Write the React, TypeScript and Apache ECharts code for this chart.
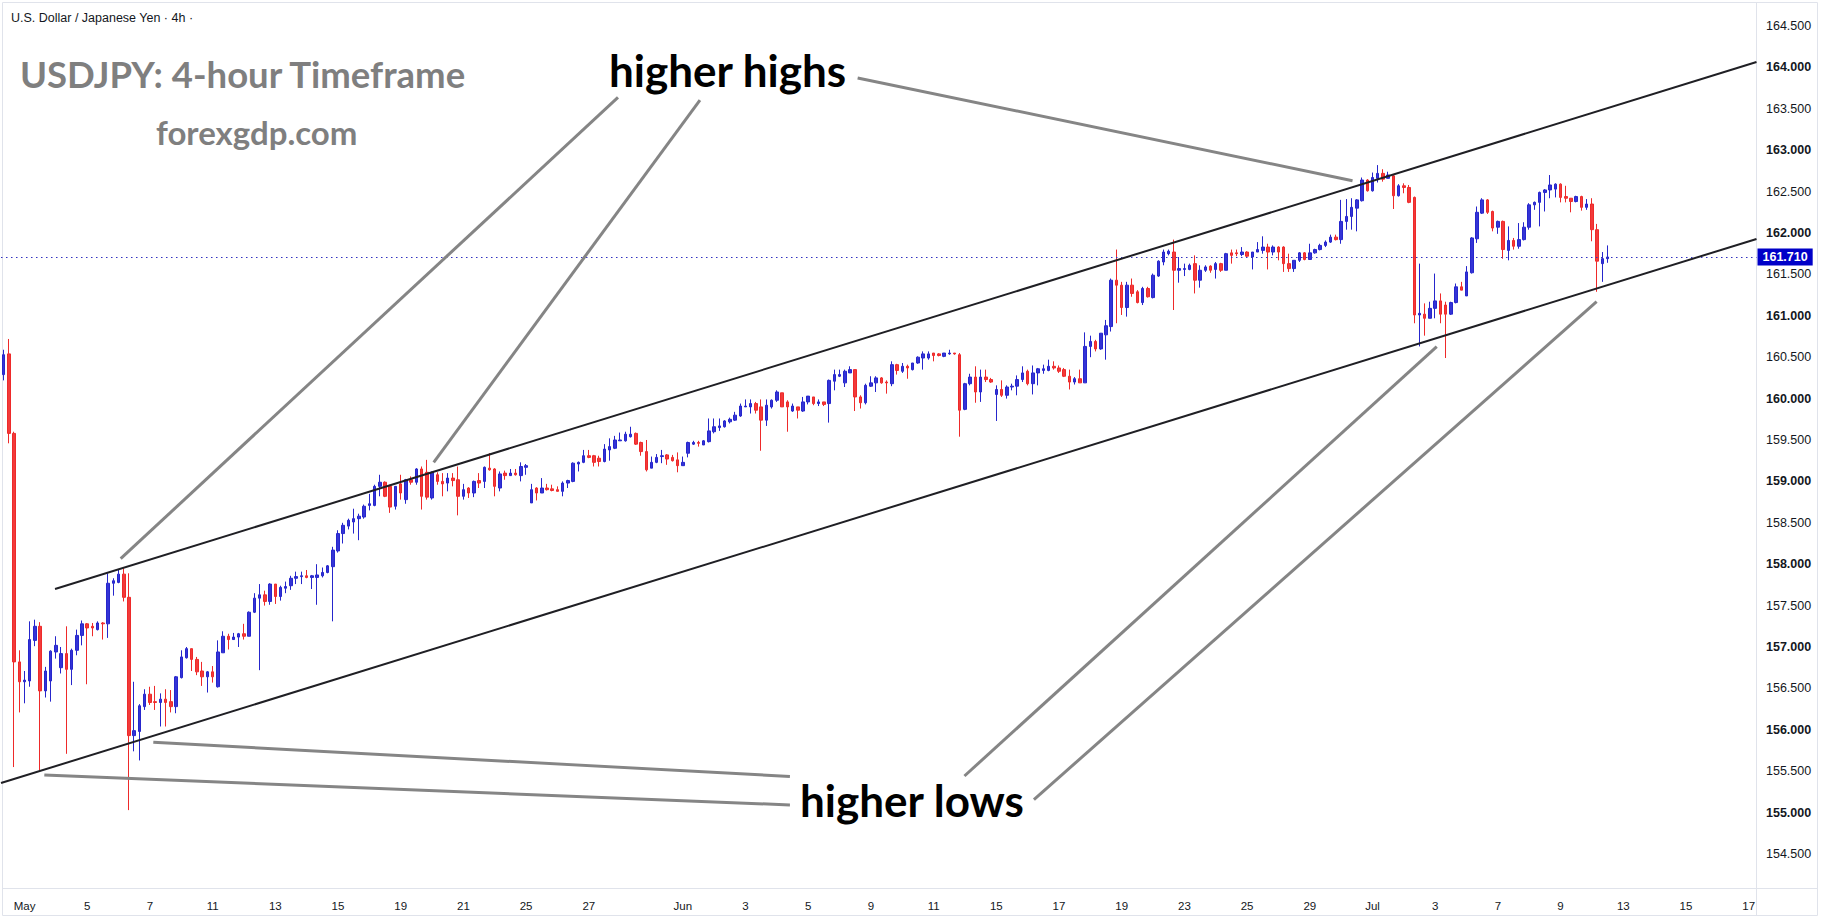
import React, { useEffect, useRef } from 'react';
import * as echarts from 'echarts';

// ---- candle values (4h USDJPY) ----
const open = [
  160.29,160.54,159.58,156.82,156.58,156.59,157.08,157.25,156.47,156.59,
  156.94,156.75,156.92,156.73,156.96,157.14,157.28,157.25,157.21,157.29,
  157.28,157.77,157.78,157.88,157.60,155.93,155.98,156.28,156.43,156.34,
  156.33,156.37,156.34,156.28,156.63,156.87,156.98,156.85,156.71,156.64,
  156.70,156.52,156.93,157.13,157.09,157.12,157.16,157.13,157.42,157.59,
  157.63,157.55,157.76,157.61,157.71,157.74,157.83,157.85,157.86,157.84,
  157.84,157.86,157.90,157.97,158.16,158.37,158.46,158.51,158.55,158.57,
  158.71,158.71,158.94,158.99,158.94,158.70,158.97,
  158.78,159.02,158.99,159.15,159.11,158.80,159.08,159.00,158.98,159.04,
  159.02,158.82,158.92,158.86,159.01,159.00,159.16,159.15,158.92,159.10,
  159.07,159.10,159.07,159.17,158.74,158.92,158.86,158.92,158.91,158.90,
  158.88,158.98,159.00,159.21,159.23,159.31,159.31,159.28,159.24,159.38,
  159.40,159.49,159.49,159.54,159.58,159.47,159.36,159.16,159.23,159.30,
  159.32,159.29,159.26,159.19,159.34,159.45,159.47,159.44,159.48,159.60,
  159.65,159.66,159.72,159.74,159.79,159.90,159.90,159.94,159.90,159.74,
  159.90,159.98,160.07,159.96,159.85,159.90,159.85,159.96,160.02,159.94,
  159.96,159.94,160.21,160.27,160.19,160.31,160.35,160.02,159.95,160.15,
  160.19,160.25,160.20,160.18,160.41,160.33,160.39,160.35,160.43,160.49,
  160.49,160.55,160.54,160.51,160.54,160.55,160.53,
  159.87,160.18,160.26,160.08,160.26,160.23,160.05,160.11,160.04,160.14,
  160.15,160.23,160.33,160.18,160.31,160.34,160.34,160.39,160.37,160.35,
  160.27,160.20,160.24,160.19,160.63,160.69,160.60,160.77,160.87,161.43,
  161.37,161.10,161.37,161.29,161.16,161.33,161.22,161.48,161.65,161.75,
  161.77,161.55,161.56,161.56,161.63,161.43,161.55,161.60,161.56,161.63,
  161.55,161.76,161.76,161.74,161.77,161.71,161.77,161.79,161.83,161.77,
  161.83,161.83,161.63,161.57,161.67,161.76,161.68,161.76,161.80,161.85,
  161.89,161.95,161.92,162.14,162.20,162.30,162.39,162.64,162.51,162.66,
  162.72,162.66,162.69,162.45,162.57,162.55,162.43,161.01,161.02,160.97,
  161.09,161.18,161.13,161.02,161.16,161.35,161.24,161.52,161.93,162.24,
  162.40,162.26,162.07,162.14,161.79,161.91,161.84,161.92,162.07,162.34,
  162.37,162.49,162.52,162.53,162.59,162.44,162.42,162.38,162.44,162.31,
  162.35,162.04,161.63,161.69
];
const high = [
  160.59,160.72,159.60,156.96,156.71,157.31,157.33,157.30,156.76,156.96,
  157.13,157.00,157.25,156.98,157.21,157.32,157.29,157.29,157.31,157.30,
  157.89,157.83,157.94,157.95,157.89,156.58,156.31,156.49,156.52,156.53,
  156.44,156.49,156.48,156.65,156.96,157.00,156.98,156.88,156.82,156.71,
  156.77,157.08,157.19,157.16,157.17,157.17,157.28,157.43,157.65,157.76,
  157.68,157.77,157.76,157.74,157.79,157.86,157.91,157.91,157.93,157.87,
  158.00,157.96,157.99,158.21,158.41,158.50,158.55,158.67,158.61,158.72,
  158.85,158.96,159.08,159.00,158.96,158.94,159.08,
  159.03,159.06,159.16,159.18,159.26,159.12,159.11,159.10,159.10,159.10,
  159.18,158.97,158.93,159.01,159.10,159.18,159.34,159.16,159.12,159.13,
  159.15,159.15,159.23,159.21,158.97,158.93,159.04,158.97,158.96,158.94,
  159.00,159.02,159.23,159.24,159.38,159.38,159.32,159.31,159.45,159.52,
  159.55,159.59,159.60,159.66,159.59,159.48,159.50,159.30,159.33,159.38,
  159.33,159.32,159.35,159.30,159.48,159.49,159.49,159.50,159.76,159.76,
  159.76,159.74,159.77,159.84,159.94,159.99,159.99,159.96,159.99,159.99,
  159.99,160.10,160.07,159.98,159.94,159.90,160.02,160.03,160.02,159.99,
  159.96,160.23,160.35,160.35,160.35,160.39,160.35,160.04,160.18,160.27,
  160.27,160.26,160.22,160.45,160.42,160.43,160.41,160.43,160.51,160.57,
  160.57,160.55,160.55,160.55,160.59,160.55,160.55,
  160.19,160.30,160.39,160.35,160.35,160.25,160.16,160.22,160.16,160.18,
  160.28,160.39,160.35,160.40,160.37,160.41,160.47,160.45,160.40,160.37,
  160.35,160.26,160.35,160.80,160.76,160.71,160.79,160.95,161.45,161.80,
  161.41,161.41,161.45,161.31,161.35,161.35,161.51,161.67,161.80,161.80,
  161.92,161.71,161.63,161.63,161.73,161.61,161.61,161.61,161.65,161.64,
  161.76,161.80,161.80,161.83,161.78,161.77,161.89,161.96,161.87,161.85,
  161.84,161.84,161.75,161.67,161.77,161.77,161.87,161.81,161.87,161.91,
  161.98,161.98,162.40,162.41,162.42,162.41,162.67,162.65,162.73,162.82,
  162.77,162.74,162.71,162.59,162.60,162.58,162.44,161.63,161.15,161.17,
  161.51,161.27,161.17,161.17,161.39,161.41,161.60,161.95,162.32,162.42,
  162.41,162.27,162.15,162.15,162.08,161.94,162.12,162.13,162.36,162.38,
  162.50,162.53,162.70,162.60,162.60,162.57,162.42,162.45,162.45,162.41,
  162.42,162.11,161.77,161.85
];
const low = [
  160.22,159.46,155.55,156.21,156.32,156.52,157.01,155.51,156.39,156.34,
  156.86,156.68,155.71,156.54,156.90,157.02,156.55,157.13,157.20,157.09,
  157.11,157.62,157.77,157.55,155.03,155.74,155.63,156.24,156.30,156.24,
  156.04,156.04,156.21,156.20,156.62,156.86,156.71,156.66,156.53,156.45,
  156.57,156.51,156.93,156.97,157.09,157.00,157.09,157.13,157.41,156.72,
  157.50,157.51,157.52,157.56,157.65,157.69,157.76,157.76,157.83,157.70,
  157.51,157.84,157.89,157.31,158.14,158.25,158.42,158.37,158.29,158.55,
  158.65,158.70,158.82,158.81,158.62,158.66,158.78,
  158.73,158.96,158.96,158.66,158.78,158.78,158.96,158.82,158.88,158.94,
  158.59,158.78,158.80,158.81,158.92,158.92,159.13,158.82,158.88,159.02,
  159.07,159.07,159.00,159.08,158.74,158.77,158.86,158.89,158.88,158.88,
  158.82,158.92,158.99,159.12,159.22,159.28,159.18,159.18,159.23,159.25,
  159.39,159.49,159.48,159.53,159.44,159.31,159.12,159.16,159.22,159.22,
  159.20,159.24,159.11,159.19,159.29,159.44,159.42,159.44,159.47,159.58,
  159.61,159.65,159.70,159.73,159.78,159.90,159.82,159.82,159.37,159.67,
  159.88,159.96,159.90,159.60,159.84,159.76,159.84,159.93,159.92,159.91,
  159.91,159.71,160.10,160.26,160.14,160.31,159.85,159.88,159.93,160.14,
  160.08,160.18,160.06,160.15,160.29,160.31,160.24,160.34,160.42,160.35,
  160.47,160.45,160.51,160.50,160.53,160.53,159.54,
  159.86,160.16,159.95,159.96,160.20,160.19,159.73,160.02,160.00,160.10,
  160.04,160.20,160.16,160.05,160.16,160.30,160.33,160.35,160.31,160.26,
  160.11,160.17,160.19,160.19,160.50,160.57,160.59,160.47,160.81,160.91,
  161.01,160.99,161.23,161.15,161.13,161.22,161.21,161.47,161.61,161.73,
  161.07,161.40,161.48,161.55,161.27,161.34,161.53,161.52,161.45,161.53,
  161.55,161.63,161.72,161.72,161.70,161.56,161.77,161.75,161.56,161.73,
  161.67,161.53,161.53,161.53,161.65,161.67,161.68,161.75,161.79,161.83,
  161.88,161.91,161.87,162.04,162.04,162.02,162.38,162.50,162.50,162.61,
  162.62,162.66,162.29,162.44,162.48,162.36,160.91,160.63,160.76,160.97,
  160.97,160.91,160.49,161.01,161.15,161.31,161.24,161.51,161.88,162.23,
  162.23,162.02,161.99,161.69,161.67,161.80,161.81,161.91,162.04,162.28,
  162.08,162.26,162.42,162.43,162.37,162.37,162.25,162.37,162.27,162.28,
  161.90,161.29,161.41,161.64
];
const close = [
  160.53,159.58,156.82,156.58,156.60,157.09,157.25,156.47,156.71,156.95,
  157.02,156.92,156.73,156.96,157.14,157.28,157.23,157.23,157.29,157.28,
  157.77,157.80,157.88,157.60,155.93,155.99,156.29,156.43,156.33,156.33,
  156.37,156.33,156.28,156.64,156.88,156.98,156.85,156.70,156.64,156.70,
  156.64,156.94,157.13,157.09,157.12,157.16,157.13,157.42,157.59,157.63,
  157.55,157.76,157.61,157.72,157.73,157.83,157.85,157.86,157.84,157.86,
  157.87,157.90,157.98,158.17,158.37,158.47,158.53,158.55,158.58,158.70,
  158.73,158.94,158.99,158.82,158.69,158.94,158.86,
  159.02,158.99,159.15,158.82,158.81,159.11,159.00,158.97,159.04,159.01,
  158.82,158.90,158.86,159.00,158.98,159.17,159.14,158.94,159.09,159.07,
  159.10,159.08,159.18,159.19,158.90,158.86,158.92,158.90,158.89,158.88,
  158.98,159.01,159.22,159.23,159.31,159.29,159.23,159.24,159.39,159.42,
  159.50,159.50,159.57,159.57,159.45,159.36,159.14,159.23,159.29,159.31,
  159.27,159.25,159.19,159.23,159.47,159.47,159.46,159.49,159.61,159.66,
  159.67,159.73,159.75,159.80,159.91,159.91,159.94,159.86,159.74,159.92,
  159.98,160.08,159.90,159.90,159.91,159.86,159.96,160.03,159.94,159.96,
  159.93,160.22,160.29,160.29,160.33,160.35,160.02,159.95,160.16,160.19,
  160.25,160.19,160.19,160.41,160.34,160.39,160.37,160.43,160.50,160.54,
  160.54,160.52,160.52,160.55,160.55,160.54,159.86,
  160.18,160.26,160.08,160.26,160.23,160.20,160.11,160.04,160.14,160.15,
  160.23,160.31,160.18,160.31,160.36,160.36,160.39,160.37,160.33,160.27,
  160.20,160.24,160.19,160.63,160.69,160.60,160.79,160.88,161.43,161.37,
  161.10,161.37,161.27,161.16,161.33,161.23,161.49,161.66,161.77,161.78,
  161.55,161.57,161.57,161.61,161.43,161.55,161.59,161.55,161.63,161.55,
  161.75,161.73,161.75,161.77,161.72,161.77,161.80,161.83,161.77,161.83,
  161.77,161.63,161.57,161.67,161.76,161.68,161.76,161.80,161.85,161.89,
  161.95,161.92,162.14,162.20,162.31,162.40,162.64,162.51,162.67,162.72,
  162.65,162.70,162.45,162.57,162.55,162.37,161.01,161.03,160.97,161.09,
  161.18,161.02,161.02,161.16,161.35,161.31,161.53,161.94,162.25,162.40,
  162.25,162.06,162.14,161.80,161.91,161.84,161.92,162.07,162.34,162.37,
  162.49,162.52,162.58,162.59,162.43,162.42,162.38,162.44,162.31,162.35,
  162.04,161.66,161.69,161.71
];

// ---- time axis ----
const tickLabels = ['May','5','7','11','13','15','19','21','25','27','Jun','3','5','9','11','15','17','19','23','25','29','Jul','3','7','9','13','15','17'];
const tickDays = [0,2,4,6,8,10,12,14,16,18,21,23,25,27,29,31,33,35,37,39,41,43,45,47,49,51,53,55];
const CANDLES_PER_DAY = 6;
const FIRST_DAY_SLOT = 4;
const SLOT_COUNT = 336;

// ---- price axis ----
const priceMin = 154;
const priceMax = 164.814;
const priceStep = 0.5;
const lastPrice = 161.71;

// ---- drawn trend lines, in (candle index, price) ----
const upperChannel = [[9.84, 157.70], [335.5, 164.065]];
const lowerChannel = [[-0.5, 155.357], [335.5, 161.928]];
const highPointers = [
  [[22.41, 158.067], [117.59, 163.637]],
  [[82.32, 159.231], [133.28, 163.606]],
  [[163.46, 163.873], [258.18, 162.632]],
];
const lowPointers = [
  [[28.65, 155.849], [150.5, 155.436]],
  [[7.79, 155.454], [150.5, 155.092]],
  [[183.9, 155.442], [274.3, 160.627]],
  [[197.2, 155.157], [304.9, 161.170]],
];

export default function App() {
  const ref = useRef<HTMLDivElement>(null);
  useEffect(() => {
    document.body.style.margin = '0';
    if (!ref.current) return;
    const chart = echarts.init(ref.current, undefined, { renderer: 'svg' });

    const categories: string[] = new Array(SLOT_COUNT).fill('');
    tickDays.forEach((d, k) => {
      const idx = FIRST_DAY_SLOT + d * CANDLES_PER_DAY;
      if (idx < SLOT_COUNT) categories[idx] = tickLabels[k];
    });
    const candles = open.map((o, i) => [o, close[i], low[i], high[i]]);

    const segSeries = (pts: number[][], color: string, width: number) => ({
      type: 'line',
      xAxisIndex: 1,
      yAxisIndex: 0,
      data: pts,
      symbol: 'none',
      silent: true,
      lineStyle: { color, width },
      z: 5,
    });

    const option: any = {
      animation: false,
      backgroundColor: '#ffffff',
      grid: { left: 1, right: 65.5, top: 0, bottom: 23.6, containLabel: false },
      xAxis: [
        {
          type: 'category',
          data: categories,
          boundaryGap: true,
          axisLine: { show: false },
          axisTick: { show: false },
          splitLine: { show: false },
          axisLabel: {
            interval: 0,
            margin: 5,
            fontSize: 11.5,
            color: '#131722',
            fontFamily: 'Liberation Sans',
            hideOverlap: false,
          },
        },
        { type: 'value', min: -0.5, max: SLOT_COUNT - 0.5, show: false },
      ],
      yAxis: {
        type: 'value',
        position: 'right',
        min: priceMin,
        max: priceMax,
        interval: priceStep,
        splitLine: { show: false },
        axisLine: { show: false },
        axisTick: { show: false },
        axisLabel: {
          margin: 9.5,
          fontFamily: 'Liberation Sans',
          fontSize: 12.5,
          color: '#131722',
          showMaxLabel: false,
          formatter: (v: number) => {
            if (v < 154.4 || v > 164.6) return '';
            const s = v.toFixed(3);
            return Math.abs(v - Math.round(v)) < 1e-6 ? `{b|${s}}` : `{n|${s}}`;
          },
          rich: {
            b: { fontWeight: 'bold', fontSize: 12.5, fontFamily: 'Liberation Sans', color: '#131722' },
            n: { fontWeight: 'normal', fontSize: 12.5, fontFamily: 'Liberation Sans', color: '#131722' },
          },
        },
      },
      series: [
        {
          type: 'candlestick',
          xAxisIndex: 0,
          yAxisIndex: 0,
          data: candles,
          barWidth: 3,
          z: 3,
          itemStyle: {
            color: '#3434d6',
            color0: '#f23a3a',
            borderColor: '#2626cc',
            borderColor0: '#ee2a2a',
            borderWidth: 1,
          },
          markLine: {
            silent: true,
            symbol: ['none', 'none'],
            data: [{ yAxis: lastPrice }],
            lineStyle: { type: [1.5, 3.5], color: '#3030c0', width: 1 },
            label: {
              show: true,
              position: 'end',
              distance: 1,
              formatter: lastPrice.toFixed(3),
              backgroundColor: '#0000c8',
              color: '#ffffff',
              fontWeight: 'bold',
              fontSize: 12.5,
              fontFamily: 'Liberation Sans',
              padding: [2, 5, 2, 5],
            },
          },
        },
        segSeries(upperChannel, '#1f1f24', 2),
        segSeries(lowerChannel, '#1f1f24', 2),
        ...highPointers.map((p) => segSeries(p, '#858585', 3)),
        ...lowPointers.map((p) => segSeries(p, '#858585', 3)),
      ],
      graphic: [
        { type: 'rect', silent: true, z: 0, shape: { x: 2.5, y: 2.5, width: 1815, height: 913 }, style: { fill: 'none', stroke: '#e0e3eb', lineWidth: 1 } },
        { type: 'line', silent: true, shape: { x1: 1756.5, y1: 2.5, x2: 1756.5, y2: 915.5 }, style: { stroke: '#e0e3eb', lineWidth: 1 } },
        { type: 'line', silent: true, shape: { x1: 2.5, y1: 888.5, x2: 1817.5, y2: 888.5 }, style: { stroke: '#e0e3eb', lineWidth: 1 } },
        { type: 'text', silent: true, x: 11, y: 18, style: { text: 'U.S. Dollar / Japanese Yen · 4h ·', fontSize: 12.5, fontFamily: 'Liberation Sans', fill: '#131722', align: 'left', verticalAlign: 'middle' } },
        { type: 'text', silent: true, x: 20, y: 74, style: { text: 'USDJPY: 4-hour Timeframe', fontSize: 36.5, fontWeight: 'bold', fontFamily: 'Lato', fill: '#7f7f7f', align: 'left', verticalAlign: 'middle' } },
        { type: 'text', silent: true, x: 156, y: 132, style: { text: 'forexgdp.com', fontSize: 33, fontWeight: 'bold', fontFamily: 'Lato', fill: '#7f7f7f', align: 'left', verticalAlign: 'middle' } },
        { type: 'text', silent: true, x: 609, y: 70, style: { text: 'higher highs', fontSize: 44, fontWeight: 'bold', fontFamily: 'Lato', fill: '#000000', align: 'left', verticalAlign: 'middle' } },
        { type: 'text', silent: true, x: 800, y: 800, style: { text: 'higher lows', fontSize: 44, fontWeight: 'bold', fontFamily: 'Lato', fill: '#000000', align: 'left', verticalAlign: 'middle' } },
      ],
    };
    chart.setOption(option);
    return () => chart.dispose();
  }, []);
  return <div ref={ref} style={{ width: 1822, height: 919 }} />;
}
